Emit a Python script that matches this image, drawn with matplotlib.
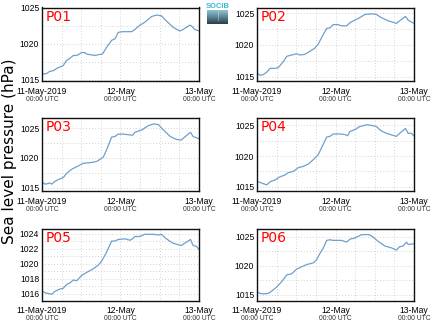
import numpy as np
import matplotlib
matplotlib.use("Agg")
from matplotlib import pyplot as plt
from matplotlib.ticker import MultipleLocator, FixedLocator

plt.rcParams['font.family'] = ['Liberation Sans', 'DejaVu Sans']

# hours since 11-May-2019 00:00 UTC, pressure in hPa
p01_h = [0, 1.4, 2.4, 3.5, 4.5, 6.0, 6.5, 7.5, 8.5, 9.6, 10.6, 12.1, 13.1, 13.6, 16.2, 17.2,
         18.5, 19.7, 21.3, 22.3, 23.3, 24.8, 27.4, 28.4, 29.9, 31.4, 33.5, 35.0, 36.5, 38.0,
         40.1, 42.1, 43.1, 45.2, 45.7, 46.7, 48]
p01_v = [1015.8, 1015.9, 1016.2, 1016.3, 1016.6, 1016.9, 1017.0, 1017.7, 1018.0, 1018.4, 1018.4,
         1018.8, 1018.8, 1018.6, 1018.4, 1018.5, 1018.6, 1019.5, 1020.5, 1020.7, 1021.6, 1021.7,
         1021.7, 1022.0, 1022.6, 1023.0, 1023.8, 1024.0, 1023.9, 1023.2, 1022.3, 1021.8, 1022.0,
         1022.6, 1022.5, 1022.0, 1021.8]

p02_h = [0, 0.9, 1.9, 3.0, 4.0, 5.5, 6.5, 8.1, 9.1, 10.6, 12.1, 13.1, 14.6, 16.2, 17.7, 18.7,
         19.7, 21.3, 22.3, 23.3, 24.8, 25.8, 27.4, 28.4, 29.9, 31.4, 33.0, 35.0, 36.5, 38.0,
         40.1, 42.6, 43.6, 45.4, 46.2, 47.2, 48]
p02_v = [1015.6, 1015.2, 1015.3, 1015.7, 1016.3, 1016.3, 1016.4, 1017.4, 1018.2, 1018.4, 1018.6,
         1018.4, 1018.5, 1019.0, 1019.5, 1020.1, 1021.1, 1022.6, 1022.7, 1023.2, 1023.2, 1023.0,
         1023.0, 1023.5, 1023.9, 1024.3, 1024.8, 1024.9, 1024.8, 1024.3, 1023.8, 1023.4, 1023.8,
         1024.5, 1023.9, 1023.6, 1023.4]

p03_h = [0, 0.9, 1.9, 2.4, 3.0, 4.0, 5.5, 6.5, 7.5, 9.1, 10.1, 11.6, 12.6, 14.6, 16.7, 18.7,
         19.7, 21.3, 22.3, 23.3, 24.8, 26.3, 27.7, 28.4, 30.5, 32.5, 34.0, 35.6, 37.1, 39.2,
         41.1, 42.6, 43.6, 45.4, 46.2, 48]
p03_v = [1016.0, 1015.6, 1015.7, 1015.8, 1015.6, 1016.1, 1016.5, 1016.7, 1017.4, 1018.1, 1018.4,
         1018.8, 1019.1, 1019.2, 1019.4, 1020.1, 1021.3, 1023.5, 1023.6, 1024.0, 1024.0, 1023.9,
         1023.8, 1024.3, 1024.7, 1025.4, 1025.7, 1025.6, 1024.7, 1023.6, 1023.1, 1023.0, 1023.5,
         1024.3, 1023.6, 1023.2]

p04_h = [0, 0.9, 1.9, 3.0, 4.0, 5.5, 7.0, 8.5, 9.6, 11.1, 12.6, 14.1, 15.7, 17.2, 18.7, 19.7,
         21.3, 22.3, 23.3, 25.4, 26.9, 27.7, 28.4, 29.9, 31.4, 33.5, 35.0, 36.5, 38.0, 39.6,
         42.6, 43.6, 45.4, 46.2, 47.2, 48]
p04_v = [1015.9, 1015.7, 1015.5, 1015.3, 1015.8, 1016.1, 1016.6, 1016.9, 1017.3, 1017.5, 1018.1,
         1018.3, 1018.7, 1019.4, 1020.2, 1021.3, 1023.1, 1023.2, 1023.6, 1023.6, 1023.5, 1023.3,
         1024.0, 1024.3, 1024.8, 1025.1, 1025.0, 1024.8, 1024.1, 1023.7, 1023.2, 1023.7, 1024.5,
         1023.7, 1023.7, 1023.3]

p05_h = [0, 0.9, 1.9, 3.0, 4.0, 5.5, 6.5, 7.5, 8.5, 9.6, 10.6, 12.1, 13.6, 15.7, 17.2, 18.2,
         19.5, 21.3, 22.3, 23.3, 25.4, 26.9, 27.7, 28.4, 29.9, 31.4, 34.0, 35.6, 36.5, 38.0,
         40.1, 42.6, 43.6, 45.4, 46.2, 47.2, 48]
p05_v = [1016.4, 1016.1, 1016.0, 1015.9, 1016.3, 1016.6, 1016.7, 1017.2, 1017.4, 1017.8, 1017.7,
         1018.4, 1018.8, 1019.3, 1019.8, 1020.3, 1021.3, 1023.0, 1023.0, 1023.2, 1023.3, 1023.1,
         1023.3, 1023.6, 1023.6, 1023.9, 1023.9, 1023.8, 1023.9, 1023.3, 1022.7, 1022.4, 1022.7,
         1023.2, 1022.4, 1022.3, 1021.9]

p06_h = [0, 0.9, 1.9, 3.5, 4.5, 6.0, 7.5, 9.1, 10.6, 12.1, 13.6, 15.2, 17.2, 18.2, 19.2, 20.2,
         21.3, 22.3, 23.3, 25.8, 27.4, 28.4, 29.9, 32.0, 34.0, 35.0, 37.1, 39.2, 41.1, 42.6,
         43.6, 44.6, 45.7, 46.2, 48]
p06_v = [1015.5, 1015.2, 1015.1, 1015.2, 1015.6, 1016.3, 1017.2, 1018.4, 1018.6, 1019.4, 1019.8,
         1020.2, 1020.5, 1021.0, 1022.1, 1023.0, 1024.4, 1024.5, 1024.4, 1024.4, 1024.1, 1024.6,
         1024.8, 1025.4, 1025.4, 1025.2, 1024.2, 1023.4, 1023.1, 1022.7, 1023.3, 1023.4, 1024.1,
         1023.7, 1023.8]

names = ['P01', 'P02', 'P03', 'P04', 'P05', 'P06']
hours = [p01_h, p02_h, p03_h, p04_h, p05_h, p06_h]
values = [p01_v, p02_v, p03_v, p04_v, p05_v, p06_v]
ylims = [(1014.86, 1025.05), (1014.3, 1025.9), (1014.45, 1026.7),
         (1014.3, 1026.2), (1015.07, 1024.67), (1013.96, 1026.46)]
ysteps = [5, 5, 5, 5, 2, 5]
day_ticks = [0, 24, 48]
day_labels = ['11-May-2019', '12-May', '13-May']

W, H = 434.0, 327.0
fig = plt.figure(figsize=(W / 100, H / 100), dpi=100)

# axes boxes in pixels: left, top, right, bottom
cols = [(42, 199), (257, 414)]
rows = [(7.5, 81), (118, 191), (228.5, 300.5)]

line_col = '#6f9fcb'
for i in range(6):
    x0, x1 = cols[i % 2]
    t0, t1 = rows[i // 2]
    ax = fig.add_axes([x0 / W, 1 - t1 / H, (x1 - x0) / W, (t1 - t0) / H])
    ax.plot(hours[i], values[i], color=line_col, lw=0.9)
    ax.set_xlim(0, 48)
    ax.set_ylim(*ylims[i])
    ax.xaxis.set_major_locator(FixedLocator(day_ticks))
    ax.xaxis.set_minor_locator(MultipleLocator(6))
    ax.set_xticklabels(day_labels)
    ax.yaxis.set_major_locator(MultipleLocator(ysteps[i]))
    ax.yaxis.set_minor_locator(MultipleLocator(ysteps[i] / 2))
    ax.grid(True, which='both', color='#c4c4c4', ls=(0, (1, 2.5)), lw=0.6)
    ax.tick_params(which='both', length=0)
    ax.tick_params(axis='y', labelsize=6.2, pad=2)
    ax.tick_params(axis='x', labelsize=6.2, pad=4)
    for s in ax.spines.values():
        s.set_linewidth(1.0)
        s.set_color('#111111')
    for h in day_ticks:
        ax.annotate('00:00 UTC', xy=(h, 0), xycoords=('data', 'axes fraction'),
                    xytext=(0, -13), textcoords='offset points',
                    ha='center', va='center', fontsize=4.9, color='#333333')
    ax.text(0.02, 0.97, names[i], transform=ax.transAxes, ha='left', va='top',
            fontsize=10, color='red', family='DejaVu Sans')

fig.text(10 / W, 1 - 151 / H, 'Sea level pressure (hPa)', rotation=90,
         ha='center', va='center', fontsize=11, family='DejaVu Sans')

# small logo
lax = fig.add_axes([207 / W, 1 - 24 / H, 21 / W, 14 / H])
grad = np.linspace(0, 1, 50).reshape(-1, 1)
lax.imshow(grad, aspect='auto', cmap=matplotlib.colors.LinearSegmentedColormap.from_list(
    'logo', ['#8fc4d0', '#5a8595', '#2c3c4a']), extent=(0, 1, 0, 1), origin='upper')
lax.plot([0.5, 0.5], [0.3, 0.95], color='white', ls=(0, (1, 1.5)), lw=0.6)
lax.set_xlim(0, 1)
lax.set_ylim(0, 1)
lax.axis('off')
fig.text(217.5 / W, 1 - 7 / H, 'SOCIB', ha='center', va='center', fontsize=5.5,
         color='#3fb8d8', weight='bold')

fig.savefig('out.png', dpi=100)
